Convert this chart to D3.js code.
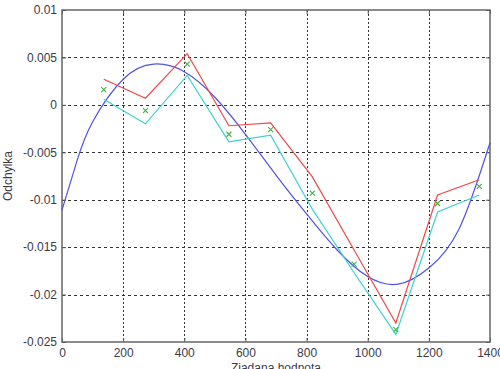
<!DOCTYPE html>
<html><head><meta charset="utf-8">
<script src="https://cdn.jsdelivr.net/npm/d3@7"></script>
<style>body{margin:0;background:#fff}svg{display:block}</style>
</head><body>
<script>
const xPts = [136.5, 273, 409.5, 546, 682.5, 819, 955.5, 1092, 1228.5, 1365];
const redVals = [0.0027, 0.0007, 0.0054, -0.0022, -0.0019, -0.0076, -0.0153, -0.0230, -0.0095, -0.0079];
const cyanVals = [0.0006, -0.0020, 0.0031, -0.0039, -0.0032, -0.0110, -0.0177, -0.0242, -0.0113, -0.0095];
const greenVals = [0.0016, -0.0006, 0.0043, -0.0031, -0.0026, -0.0093, -0.0168, -0.0237, -0.0104, -0.0086];
const blueX = [0, 50, 100, 200, 300, 400, 500, 600, 700, 800, 900, 1000, 1100, 1200, 1300, 1400];
const blueVals = [-0.0111, -0.0058, -0.0018, 0.0027, 0.0043, 0.0035, 0.0008, -0.0031, -0.0074, -0.0115, -0.0153, -0.0181, -0.0189, -0.0172, -0.0130, -0.0040];
const xTicks = [0, 200, 400, 600, 800, 1000, 1200, 1400];
const yTicks = [0.01, 0.005, 0, -0.005, -0.01, -0.015, -0.02, -0.025];
const yTickLabels = ["0.01", "0.005", "0", "-0.005", "-0.01", "-0.015", "-0.02", "-0.025"];

const W = 500, H = 369;
const L = 62, R = 490, T = 10, B = 342;
const svg = d3.select("body").append("svg").attr("width", W).attr("height", H);
const x = d3.scaleLinear().domain([0, 1400]).range([L, R]);
const y = d3.scaleLinear().domain([-0.025, 0.01]).range([B, T]);
const font = "Arial, 'Liberation Sans', sans-serif";
const txt = "#3a3a4a";

// grid
const g = svg.append("g");
g.selectAll("line.gx").data(xTicks.slice(1, -1)).join("line")
  .attr("x1", d => Math.round(x(d)) + 0.5).attr("x2", d => Math.round(x(d)) + 0.5)
  .attr("y1", T).attr("y2", B)
  .attr("stroke", "#333").attr("stroke-width", 1).attr("stroke-dasharray", "2,2");
g.selectAll("line.gy").data(yTicks.slice(1, -1)).join("line")
  .attr("y1", d => Math.round(y(d)) + 0.5).attr("y2", d => Math.round(y(d)) + 0.5)
  .attr("x1", L).attr("x2", R)
  .attr("stroke", "#333").attr("stroke-width", 1).attr("stroke-dasharray", "3,3");

// axes via d3 axes (ticks inward)
const xAxis = d3.axisBottom(x).tickValues(xTicks).tickSize(-4).tickPadding(6).tickFormat(d3.format("d"));
const yAxis = d3.axisLeft(y).tickValues(yTicks).tickSize(-4).tickPadding(5).tickFormat((d, i) => yTickLabels[i]);
const xa = svg.append("g").attr("transform", `translate(0,${B})`).call(xAxis);
const ya = svg.append("g").attr("transform", `translate(${L},0)`).call(yAxis);
const xt = svg.append("g").attr("transform", `translate(0,${T})`).call(d3.axisTop(x).tickValues(xTicks).tickSize(-4).tickFormat(""));
const yr = svg.append("g").attr("transform", `translate(${R},0)`).call(d3.axisRight(y).tickValues(yTicks).tickSize(-4).tickFormat(""));
[xa, ya, xt, yr].forEach(a => {
  a.select(".domain").remove();
  a.selectAll(".tick line").attr("stroke", "#555");
  a.selectAll("text").attr("fill", txt).style("font-family", font).style("font-size", "12px");
});
svg.append("rect").attr("x", L).attr("y", T).attr("width", R - L).attr("height", B - T)
  .attr("fill", "none").attr("stroke", "#666").attr("stroke-width", 1.5);

// lines
const lineXY = d3.line().x(d => x(d[0])).y(d => y(d[1]));
const plot = svg.append("g");
plot.append("path").datum(blueX.map((v, i) => [v, blueVals[i]]))
  .attr("d", d3.line().x(d => x(d[0])).y(d => y(d[1])).curve(d3.curveNatural))
  .attr("fill", "none").attr("stroke", "#5252e6").attr("stroke-width", 1.2);
plot.append("path").datum(xPts.map((v, i) => [v, cyanVals[i]]))
  .attr("d", lineXY).attr("fill", "none").attr("stroke", "#3ed0d0").attr("stroke-width", 1.2);
plot.append("path").datum(xPts.map((v, i) => [v, redVals[i]]))
  .attr("d", lineXY).attr("fill", "none").attr("stroke", "#f04848").attr("stroke-width", 1.2);
const s = 2.5;
plot.selectAll("path.mk").data(xPts.map((v, i) => [v, greenVals[i]])).join("path")
  .attr("d", d => { const cx = x(d[0]), cy = y(d[1]); return `M${cx - s},${cy - s}L${cx + s},${cy + s}M${cx - s},${cy + s}L${cx + s},${cy - s}`; })
  .attr("stroke", "#44b044").attr("stroke-width", 1.1).attr("fill", "none");

// labels
svg.append("text").attr("x", (L + R) / 2).attr("y", 372).attr("text-anchor", "middle")
  .attr("fill", txt).style("font-family", font).style("font-size", "12px").text("Ziadana hodnota");
svg.append("text").attr("transform", `translate(12,${(T + B) / 2}) rotate(-90)`).attr("text-anchor", "middle")
  .attr("fill", txt).style("font-family", font).style("font-size", "12px").text("Odchylka");
</script>
</body></html>
